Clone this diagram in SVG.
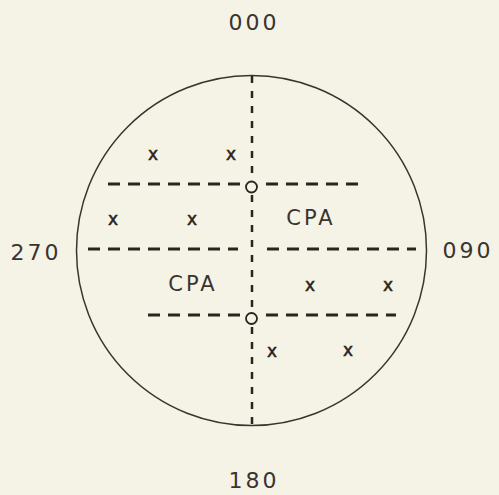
<svg xmlns="http://www.w3.org/2000/svg" width="499" height="495" viewBox="0 0 499 495">
<style>
.lbl{font-family:"DejaVu Sans","Liberation Sans",sans-serif;font-size:22px;fill:#3a3430;letter-spacing:3px}
.cpa{font-family:"DejaVu Sans","Liberation Sans",sans-serif;font-size:21px;fill:#3a3430;letter-spacing:3px}
.x{font-family:"DejaVu Sans","Liberation Sans",sans-serif;font-size:17px;fill:#2a2420;stroke:#2a2420;stroke-width:0.5}
.h{stroke:#2a2420;stroke-width:3;stroke-dasharray:12 8;fill:none}
.v{stroke:#2a2420;stroke-width:2.5;stroke-dasharray:7 8;fill:none}
.o{stroke:#2a2420;stroke-width:1.8;fill:none}
</style>
<rect width="499" height="495" fill="#f4f3e6"/>
<g id="plot">
<circle cx="251.5" cy="250.5" r="175" fill="none" stroke="#3a3430" stroke-width="1.5"/>
</g>
<g id="connectors">
<line class="v" x1="252" y1="76" x2="252" y2="180"/>
<line class="v" x1="252" y1="195" x2="252" y2="312"/>
<line class="v" x1="252" y1="327" x2="252" y2="426"/>
<line class="h" x1="108" y1="184" x2="245" y2="184"/>
<line class="h" x1="266" y1="184" x2="358" y2="184"/>
<line class="h" x1="88" y1="249" x2="238" y2="249"/>
<line class="h" x1="267" y1="249" x2="416" y2="249"/>
<line class="h" x1="148" y1="315" x2="245" y2="315"/>
<line class="h" x1="266" y1="315" x2="396" y2="315"/>
</g>
<g id="origin1"><circle class="o" cx="251.5" cy="187" r="5.5"/></g>
<g id="origin2"><circle class="o" cx="251.5" cy="318.5" r="5.5"/></g>
<g id="labels">
<text class="lbl" x="254" y="30" text-anchor="middle">000</text>
<text class="lbl" x="254" y="488" text-anchor="middle">180</text>
<text class="lbl" x="36" y="260" text-anchor="middle">270</text>
<text class="lbl" x="468" y="258" text-anchor="middle">090</text>
<text class="cpa" x="311" y="225" text-anchor="middle">CPA</text>
<text class="cpa" x="193" y="291" text-anchor="middle">CPA</text>
</g>
<g id="marks" text-anchor="middle">
<text class="x" x="153" y="160">x</text>
<text class="x" x="231" y="160">x</text>
<text class="x" x="113" y="225">x</text>
<text class="x" x="192" y="225">x</text>
<text class="x" x="310" y="291">x</text>
<text class="x" x="388" y="291">x</text>
<text class="x" x="272" y="357">x</text>
<text class="x" x="348" y="356">x</text>
</g>
</svg>
